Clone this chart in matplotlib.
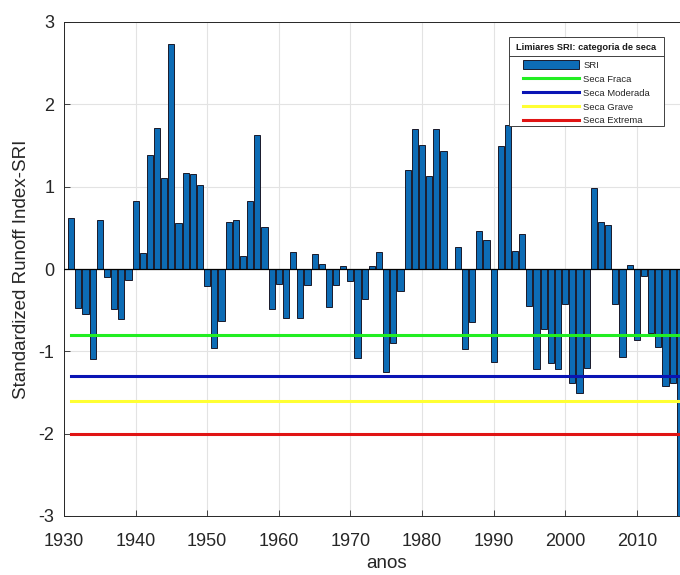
import matplotlib
matplotlib.use("Agg")
import matplotlib.pyplot as plt
from matplotlib.lines import Line2D
from matplotlib.patches import Patch, Rectangle
from matplotlib.transforms import IdentityTransform

plt.rcParams['font.family'] = ['Liberation Sans', 'DejaVu Sans']
plt.rcParams['axes.unicode_minus'] = False

years = list(range(1931, 2017))
sri = [
    0.62, -0.47, -0.55, -1.09, 0.59, -0.10, -0.48, -0.61, -0.13, 0.83,   # 1931-1940
    0.19, 1.38, 1.71, 1.11, 2.73, 0.56, 1.16, 1.15, 1.02, -0.21,        # 1941-1950
    -0.96, -0.63, 0.57, 0.60, 0.16, 0.82, 1.63, 0.51, -0.49, -0.18,     # 1951-1960
    -0.59, 0.21, -0.60, -0.20, 0.18, 0.065, -0.46, -0.19, 0.04, -0.15,  # 1961-1970
    -1.08, -0.37, 0.04, 0.21, -1.25, -0.90, -0.27, 1.20, 1.70, 1.51,    # 1971-1980
    1.13, 1.70, 1.43, 0.0, 0.27, -0.97, -0.64, 0.46, 0.35, -1.13,       # 1981-1990
    1.50, 1.75, 0.22, 0.42, -0.45, -1.22, -0.73, -1.14, -1.21, -0.42,   # 1991-2000
    -1.38, -1.50, -1.20, 0.98, 0.57, 0.54, -0.43, -1.07, 0.05, -0.86,   # 2001-2010
    -0.08, -0.78, -0.95, -1.42, -1.38, -3.30,                           # 2011-2016
]

thr_names = ['Seca Fraca', 'Seca Moderada', 'Seca Grave', 'Seca Extrema']
thr_values = [-0.8, -1.3, -1.6, -2.0]
thr_colors = ['#22ee22', '#0a14b4', '#ffff33', '#e01414']

xticks = list(range(1930, 2011, 10))
yticks = [-3, -2, -1, 0, 1, 2, 3]

fig = plt.figure(figsize=(6.8, 5.75), dpi=100)
ax = fig.add_axes([64/680, 59/575, (708.6-64.2)/680, 494/575])

bar_color = '#0d6cb5'
ax.bar(years, sri, width=0.86, color=bar_color, edgecolor='#1a1a2a', linewidth=0.7, zorder=3)
ax.axhline(0, color='black', linewidth=0.9, zorder=4)

for v, c in zip(thr_values, thr_colors):
    ax.plot([years[0], years[-1]], [v, v], color=c, linewidth=2.2, zorder=5)

ax.set_xlim(1930, 2020)
ax.set_ylim(-3, 3)
ax.set_xticks(xticks)
ax.set_yticks(yticks)
ax.set_xticklabels([str(t) for t in xticks])
ax.set_yticklabels([str(t) for t in yticks])
ax.tick_params(direction='in', labelsize=13, colors='#262626', length=4, width=0.6)
ax.tick_params(axis='x', pad=12)
ax.tick_params(axis='y', pad=7)
ax.grid(True, color='#e3e3e3', linewidth=0.8, zorder=0)
ax.set_axisbelow(True)
for s in ax.spines.values():
    s.set_color('#262626')
    s.set_linewidth(0.7)

ax.set_xlabel('anos', fontsize=13.5, color='#262626', labelpad=4)
ax.set_ylabel('Standardized Runoff Index-SRI', fontsize=13.5, color='#262626', labelpad=6)

handles = [Patch(facecolor=bar_color, edgecolor='#1a1a2a', linewidth=0.7)]
handles += [Line2D([0], [0], color=c, linewidth=2.2) for c in thr_colors]
labels = ['SRI'] + thr_names
leg = ax.legend(handles, labels, title='Limiares SRI: categoria de seca',
                loc='upper right', bbox_to_anchor=(656.5/680, 1-43/575),
                bbox_transform=fig.transFigure, borderaxespad=0,
                fontsize=6.8, title_fontproperties={'weight': 'bold', 'size': 6.7},
                handlelength=5.9, handleheight=1.1, labelspacing=0.44,
                handletextpad=0.5, borderpad=0.0, frameon=False,
                labelcolor='#262626')
leg.get_title().set_color('#1a1a1a')
leg.set_zorder(10)
leg._legend_box.sep = 5.8

fig.canvas.draw()
r = fig.canvas.get_renderer()
bb = leg.get_window_extent(r)
tb = leg.get_title().get_window_extent(r)
pad_x, pad_top, pad_bot = 7.5, 6.0, 1.0
frame = Rectangle((bb.x0 - pad_x, bb.y0 - pad_bot), bb.width + 2*pad_x, bb.height + pad_top + pad_bot,
                  transform=IdentityTransform(), facecolor='white', edgecolor='#404040',
                  linewidth=0.7, zorder=9, clip_on=False)
ax.add_patch(frame)
ysep = (tb.y0 + tb.y1) / 2 - 8
ax.add_line(Line2D([bb.x0 - pad_x, bb.x1 + pad_x], [ysep, ysep], transform=IdentityTransform(),
                   color='#404040', linewidth=0.7, zorder=11, clip_on=False))

fig.savefig('out.png', dpi=100)
